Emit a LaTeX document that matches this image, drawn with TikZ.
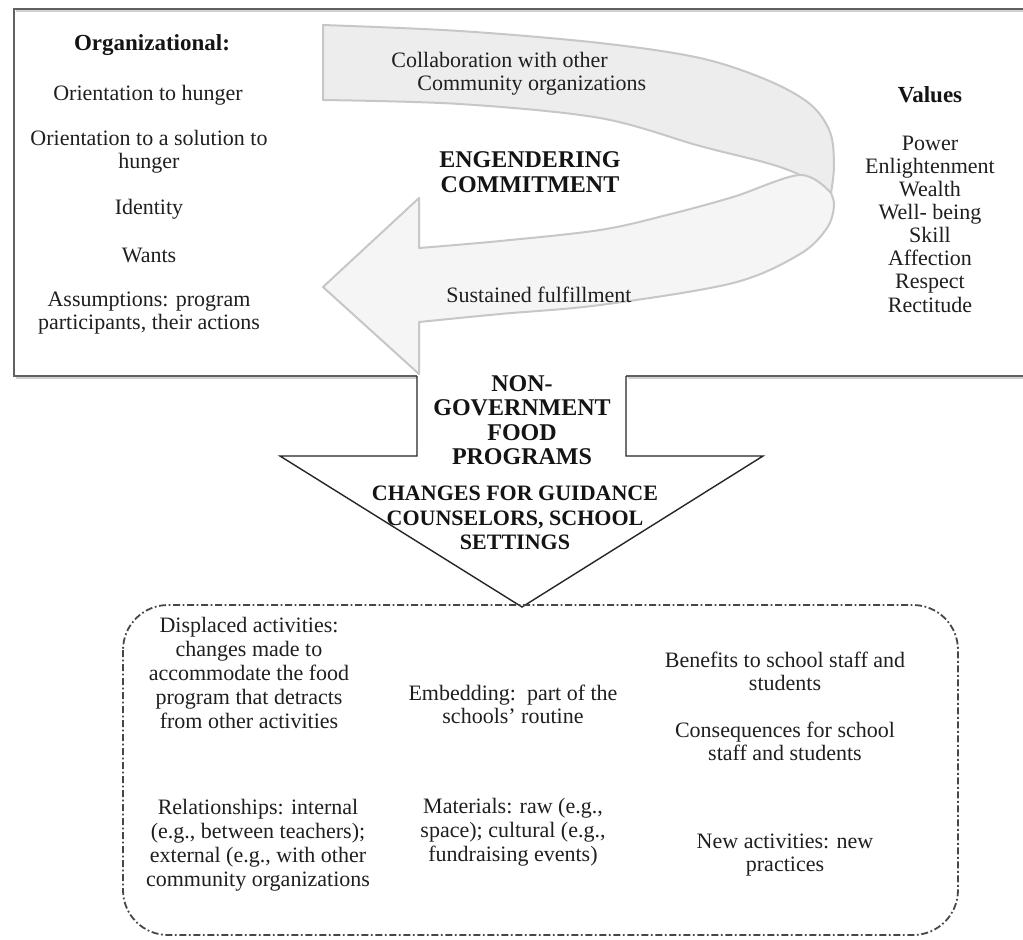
\documentclass[tikz,border=0pt]{standalone}
\usepackage{fontspec}
\setmainfont{Liberation Serif}
\begin{document}
\begin{tikzpicture}[x=0.5pt,y=-0.5pt,
  txt/.style={align=center, inner sep=0pt, text=black!88,
    font=\fontsize{11}{11.6}\selectfont},
  hd/.style={align=center, inner sep=0pt, text=black!92,
    font=\fontsize{11.5}{12}\selectfont\bfseries},
  big/.style={align=center, inner sep=0pt, text=black!92,
    font=\fontsize{12}{12.2}\selectfont\bfseries},
  frame/.style={draw=black!62, line width=1.1pt},
  shadow/.style={draw=black!18, line width=1.2pt},
  arrowline/.style={draw=black!85, line width=0.7pt, line join=miter},
  ribbon/.style={draw=black!22, line width=1pt, line join=round},
  dashdot/.style={draw=black!72, line width=0.9pt,
    dash pattern=on 3.5pt off 1.3pt on 0.9pt off 1.3pt},
]
\useasboundingbox (0,0) rectangle (1023,939);
\fill[white] (0,0) rectangle (1023,939);

% outer frame of the upper panel (open on the right)
\draw[shadow] (16,11) -- (1023,11);
\draw[shadow] (16,378) -- (419,378);
\draw[shadow] (628,378) -- (1023,378);
\draw[frame] (1023,9) -- (14,9) -- (14,376) -- (417,376);
\draw[frame] (626,376) -- (1023,376);

% large downward block arrow
\filldraw[fill=white, arrowline]
  (417,376) -- (417,456) -- (280,456) -- (522,607) -- (763,456)
  -- (626,456) -- (626,376);

% U-turn ribbon arrow: upper band
\filldraw[ribbon, fill=black!7]
  (323,25)
  -- plot[smooth, tension=0.55] coordinates {(323,25) (460,31) (600,43) (700,58)
       (767,80) (810,104) (830,132) (834,165) (831,193)}
  -- plot[smooth, tension=0.55] coordinates {(831,193) (800,175) (767,163)
       (700,146) (600,118) (460,104) (323,100)}
  -- cycle;
% lower band with the head
\filldraw[ribbon, fill=black!4]
  (831,193)
  -- plot[smooth, tension=0.55] coordinates {(831,193) (800,175) (733,197)
       (667,215) (600,230) (500,241) (419,248)}
  -- (419,198) -- (323,287) -- (419,374) -- (419,322)
  -- plot[smooth, tension=0.55] coordinates {(419,322) (500,314) (600,305)
       (733,283) (800,254) (827,228) (834,206) (831,193)}
  -- cycle;

% dash-dotted outcome panel
\draw[dashdot, rounded corners=22.5pt] (123,605) rectangle (958,935);

% left list
\node[hd]  (org)    at (152,45)  {Organizational:};
\node[txt] (orhun)  at (148,95)  {Orientation to hunger};
\node[txt] (orsol)  at (149,152) {Orientation to a solution to\\hunger};
\node[txt] (ident)  at (149,209) {Identity};
\node[txt] (wants)  at (149,255) {Wants};
\node[txt] (assum)  at (149,313) {Assumptions: program\\participants, their actions};

% ribbon labels
\node[txt, align=left, anchor=west] (collab) at (391,74)
  {Collaboration with other\\\hspace*{13pt}Community organizations};
\node[big] (engend) at (530,172) {ENGENDERING\\COMMITMENT};
\node[txt] (sustain) at (539,295) {Sustained fulfillment};

% right list
\node[hd]  (values) at (930,95) {Values};
\node[txt, font=\fontsize{11}{11.57}\selectfont] (vlist) at (930,224)
  {Power\\Enlightenment\\Wealth\\Well- being\\Skill\\Affection\\Respect\\Rectitude};

% block arrow labels
\node[big] (ngo) at (522,420) {NON-\\GOVERNMENT\\FOOD\\PROGRAMS};
\node[hd, font=\fontsize{11}{12.4}\selectfont\bfseries] (changes) at (515,518)
  {CHANGES FOR GUIDANCE\\COUNSELORS, SCHOOL\\SETTINGS};

% outcome panel entries
\node[txt, font=\fontsize{11}{11.9}\selectfont] (displ) at (249,673)
  {Displaced activities:\\changes made to\\accommodate the food\\program that detracts\\from other activities};
\node[txt] (embed) at (513,704) {Embedding:\ \ part of the\\schools' routine};
\node[txt, font=\fontsize{11}{12}\selectfont] (relat) at (258,845)
  {Relationships: internal\\(e.g., between teachers);\\external (e.g., with other\\community organizations};
\node[txt, font=\fontsize{11}{12}\selectfont] (mater) at (513,832)
  {Materials: raw (e.g.,\\space); cultural (e.g.,\\fundraising events)};
\node[txt] (benef) at (785,671) {Benefits to school staff and\\students};
\node[txt] (conseq) at (785,741) {Consequences for school\\staff and students};
\node[txt] (newact) at (785,855) {New activities: new\\practices};
\end{tikzpicture}
\end{document}
